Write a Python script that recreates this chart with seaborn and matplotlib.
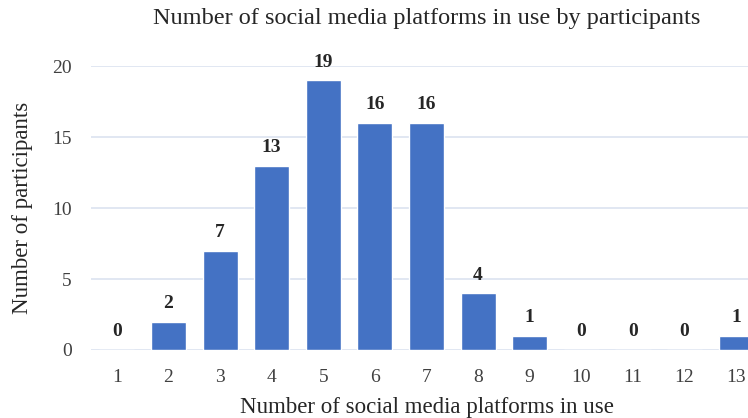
import matplotlib
matplotlib.use("Agg")
import matplotlib.pyplot as plt
import seaborn as sns
import pandas as pd

platforms = ["1", "2", "3", "4", "5", "6", "7", "8", "9", "10", "11", "12", "13"]
participants = [0, 2, 7, 13, 19, 16, 16, 4, 1, 0, 0, 0, 1]
y_ticks = [0, 5, 10, 15, 20]

sns.set_theme(style="white")
plt.rcParams["font.family"] = ["Liberation Serif", "DejaVu Serif"]

df = pd.DataFrame({"platforms": platforms, "participants": participants})

fig = plt.figure(figsize=(7.48, 4.18), dpi=100)
ax = fig.add_axes([0.1217, 0.1627, 0.897, 0.679])

sns.barplot(data=df, x="platforms", y="participants", color="#4472C4",
            width=0.68, saturation=1, ax=ax, zorder=3)

ax.set_ylim(0, 20)
ax.set_yticks(y_ticks)
ax.grid(axis="y", color="#DCE3F0", linewidth=1.2, zorder=0)
ax.set_axisbelow(True)
for s in ax.spines.values():
    s.set_visible(False)
ax.tick_params(axis="both", length=0, labelsize=14, colors="#404040")
ax.tick_params(axis="x", pad=13.5)
ax.tick_params(axis="y", pad=14)

ax.bar_label(ax.containers[0], labels=[str(v) for v in participants],
             padding=7, fontsize=14, fontweight="bold", color="#262626")

ax.set_xlabel("Number of social media platforms in use", fontsize=16.5,
              color="#262626", labelpad=8)
ax.set_ylabel("Number of participants", fontsize=16.5, color="#262626", labelpad=14)
fig.text(0.571, 0.955, "Number of social media platforms in use by participants",
         ha="center", va="center", fontsize=17.5, color="#262626")

fig.savefig("out.png", dpi=100)
